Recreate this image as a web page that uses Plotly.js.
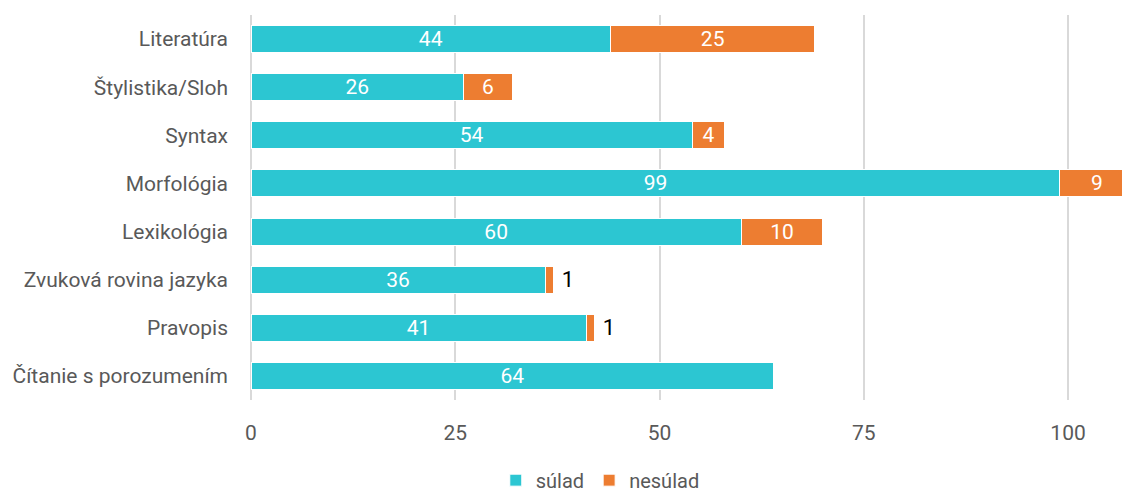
<!DOCTYPE html>
<html>
<head>
<meta charset="utf-8">
<script src="https://cdn.plot.ly/plotly-3.0.1.min.js"></script>
<style>html,body{margin:0;padding:0;background:#fff;}#chart{width:1122px;height:494px;}</style>
</head>
<body>
<div id="chart"></div>
<script>
const categories = ["Literatúra", "Štylistika/Sloh", "Syntax", "Morfológia", "Lexikológia", "Zvuková rovina jazyka", "Pravopis", "Čítanie s porozumením"];
const sulad = [44, 26, 54, 99, 60, 36, 41, 64];
const nesulad = [25, 6, 4, 9, 10, 1, 1, 0];
const xTicks = [0, 25, 50, 75, 100];
const xMax = 106.6;

const FONT = "Roboto, 'Noto Sans', sans-serif";
const teal = "#2CC6D2";
const orange = "#ED7D31";

// segments that run past the axis end get their label from an annotation
const overflow = categories.map((c, i) => sulad[i] + nesulad[i] > xMax);

const traceA = {
  type: "bar", orientation: "h", name: "súlad",
  y: categories, x: sulad,
  marker: {color: teal, line: {color: "#ffffff", width: 1}},
  text: sulad.map(v => String(v)),
  textposition: "inside", insidetextanchor: "middle", textangle: 0,
  insidetextfont: {family: FONT, size: 21, color: "#ffffff"},
  constraintext: "none",
  cliponaxis: false, hoverinfo: "x+y"
};
const traceB = {
  type: "bar", orientation: "h", name: "nesúlad",
  y: categories, x: nesulad,
  marker: {color: orange, line: {color: "#ffffff", width: 1}},
  text: nesulad.map((v, i) => (v > 0 && !overflow[i]) ? (v <= 1 ? " " + v : String(v)) : ""),
  textposition: nesulad.map(v => v <= 1 ? "outside" : "inside"),
  insidetextanchor: "middle", textangle: 0,
  insidetextfont: {family: FONT, size: 21, color: "#ffffff"},
  outsidetextfont: {family: FONT, size: 22, color: "#000000"},
  constraintext: "none",
  cliponaxis: false, hoverinfo: "x+y"
};

const annotations = categories.map((c, i) => overflow[i] ? {
  x: sulad[i] + nesulad[i] / 2, y: c, xref: "x", yref: "y",
  text: String(nesulad[i]), showarrow: false,
  font: {family: FONT, size: 21, color: "#ffffff"}
} : null).filter(a => a);

const layout = {
  width: 1122, height: 494,
  margin: {l: 251, r: 0, t: 15, b: 94, pad: 0},
  paper_bgcolor: "#ffffff", plot_bgcolor: "#ffffff",
  barmode: "stack", bargap: 0.44,
  font: {family: FONT, size: 21, color: "#595959"},
  showlegend: true,
  legend: {orientation: "h", xref: "container", yref: "container", x: 0.535, xanchor: "center", y: 0.028, yanchor: "middle",
           font: {family: FONT, size: 20, color: "#595959"}, traceorder: "normal", itemwidth: 30},
  annotations: annotations,
  xaxis: {type: "linear", autorange: false, range: [0, xMax], tickvals: xTicks, ticktext: xTicks.map(String),
          showgrid: true, gridcolor: "#d9d9d9", gridwidth: 2, zeroline: true, zerolinecolor: "#d9d9d9", zerolinewidth: 2,
          showline: false, ticks: "", ticklabelstandoff: 18,
          tickfont: {family: FONT, size: 21, color: "#595959"}, fixedrange: true},
  yaxis: {type: "category", categoryorder: "array", categoryarray: categories.slice(), autorange: "reversed",
          showgrid: false, zeroline: false, showline: false, ticks: "", ticklabelstandoff: 22,
          tickfont: {family: FONT, size: 21, color: "#595959"}, fixedrange: true}
};

Plotly.newPlot("chart", [traceA, traceB], layout, {displayModeBar: false, staticPlot: true});
</script>
</body>
</html>
